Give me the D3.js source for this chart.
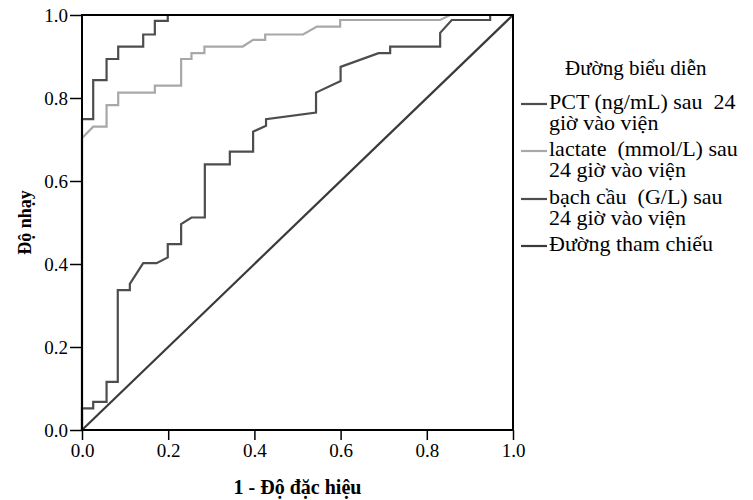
<!DOCTYPE html>
<html>
<head>
<meta charset="utf-8">
<script src="https://cdn.jsdelivr.net/npm/d3@7"></script>
<style>
  body { margin: 0; background: #fff; }
  svg text { font-family: "Liberation Serif", "Times New Roman", serif; fill: #000; white-space: pre; }
</style>
</head>
<body>
<svg class="roc" width="753" height="500"></svg>
<script>

// Data: [1 - specificity, sensitivity].
var pctPoints = [[0, 0], [0, 0.749], [0.026, 0.749], [0.026, 0.843], [0.057, 0.843], [0.057, 0.894],
  [0.084, 0.894], [0.084, 0.924], [0.142, 0.924], [0.142, 0.953], [0.169, 0.953], [0.169, 0.986],
  [0.199, 0.986], [0.199, 1.0], [1, 1]];

var lactatePoints = [[0, 0], [0, 0.703], [0.026, 0.731], [0.057, 0.731], [0.057, 0.783], [0.084, 0.783],
  [0.084, 0.813], [0.169, 0.813], [0.169, 0.830], [0.230, 0.830], [0.230, 0.894], [0.254, 0.894],
  [0.254, 0.908], [0.284, 0.908], [0.284, 0.924], [0.373, 0.924], [0.397, 0.940], [0.425, 0.940],
  [0.425, 0.953], [0.513, 0.953], [0.545, 0.972], [0.599, 0.972], [0.599, 0.988], [0.831, 0.988],
  [0.854, 1.0], [1, 1]];

var wbcPoints = [[0, 0], [0, 0.052], [0.026, 0.052], [0.026, 0.068], [0.057, 0.068], [0.057, 0.116],
  [0.083, 0.116], [0.083, 0.337], [0.111, 0.337], [0.111, 0.352], [0.142, 0.402], [0.173, 0.402],
  [0.199, 0.416], [0.199, 0.448], [0.230, 0.448], [0.230, 0.496], [0.254, 0.512], [0.285, 0.512],
  [0.285, 0.640], [0.343, 0.640], [0.343, 0.671], [0.397, 0.671], [0.397, 0.719], [0.427, 0.733],
  [0.427, 0.749], [0.543, 0.765], [0.543, 0.813], [0.600, 0.841], [0.600, 0.875], [0.688, 0.908],
  [0.715, 0.908], [0.715, 0.924], [0.831, 0.924], [0.831, 0.957], [0.858, 0.988], [0.947, 0.988],
  [0.947, 1.0], [1, 1]];

var refPoints = [[0, 0], [1, 1]];

var ticks = [0, 0.2, 0.4, 0.6, 0.8, 1.0];

var legendTitle = "Đường biểu diễn";
var legendItems = [
  {lines: ["PCT (ng/mL) sau  24", "giờ vào viện"], color: "#4d4d4d"},
  {lines: ["lactate  (mmol/L) sau", "24 giờ vào viện"], color: "#a8a8a8"},
  {lines: ["bạch cầu  (G/L) sau", "24 giờ vào viện"], color: "#4d4d4d"},
  {lines: ["Đường tham chiếu"], color: "#3a3a3a"}
];

var series = [
  {points: pctPoints, color: "#4d4d4d"},
  {points: lactatePoints, color: "#a8a8a8"},
  {points: wbcPoints, color: "#4d4d4d"},
  {points: refPoints, color: "#3a3a3a"}
];

var margin = {top: 15, left: 82},
    width = 431,
    height = 415;

var svg = d3.select(".roc");
var chart = svg.append("g")
    .attr("transform", "translate(" + margin.left + "," + margin.top + ")");

var x = d3.scaleLinear().domain([0, 1]).range([0, width]);
var y = d3.scaleLinear().domain([0, 1]).range([height, 0]);

var line = d3.line()
    .x(function(d) { return x(d[0]); })
    .y(function(d) { return y(d[1]); });

// Draw curves.
chart.selectAll(".curve")
    .data(series)
  .enter().append("path")
    .attr("class", "curve")
    .attr("d", function(d) { return line(d.points); })
    .attr("fill", "none")
    .attr("stroke", function(d) { return d.color; })
    .attr("stroke-width", 2.2);

// Frame.
chart.append("rect")
    .attr("width", width)
    .attr("height", height)
    .attr("fill", "none")
    .attr("stroke", "#000")
    .attr("stroke-width", 2);

// Axes.
var xAxis = chart.append("g")
    .attr("transform", "translate(0," + height + ")")
    .call(d3.axisBottom(x).tickValues(ticks).tickFormat(d3.format(".1f")).tickSize(10).tickPadding(4));

var yAxis = chart.append("g")
    .call(d3.axisLeft(y).tickValues(ticks).tickFormat(d3.format(".1f")).tickSize(12).tickPadding(2));

[xAxis, yAxis].forEach(function(a) {
  a.select(".domain").remove();
  a.selectAll("line").attr("stroke", "#000").attr("stroke-width", 1.5);
  a.selectAll("text").style("font-size", "19px").attr("fill", "#000");
});

// Axis titles.
svg.append("text")
    .attr("x", margin.left + width / 2)
    .attr("y", 494)
    .attr("text-anchor", "middle")
    .style("font-size", "20px")
    .style("font-weight", "bold")
    .text("1 - Độ đặc hiệu");

svg.append("text")
    .attr("transform", "translate(31," + (margin.top + height / 2) + ") rotate(-90)")
    .attr("text-anchor", "middle")
    .style("font-size", "18px")
    .style("font-weight", "bold")
    .text("Độ nhạy");

// Legend.
var legend = svg.append("g");

legend.append("text")
    .attr("x", 565)
    .attr("y", 75)
    .style("font-size", "21px")
    .text(legendTitle);

var rowY = [104, 151, 199, 246];

legendItems.forEach(function(item, i) {
  legend.append("line")
      .attr("x1", 521).attr("x2", 547)
      .attr("y1", rowY[i]).attr("y2", rowY[i])
      .attr("stroke", item.color)
      .attr("stroke-width", 2.2);
  item.lines.forEach(function(t, j) {
    legend.append("text")
        .attr("x", 549)
        .attr("y", rowY[i] + 5 + j * 21)
        .style("font-size", "22px")
        .text(t);
  });
});

</script>
</body>
</html>
